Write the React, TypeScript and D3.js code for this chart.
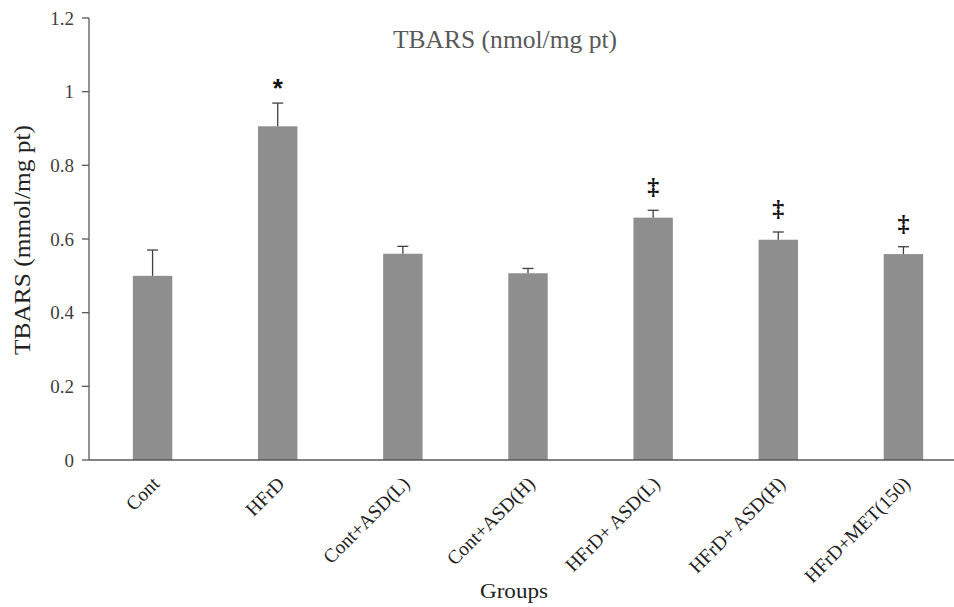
import React, { useEffect, useRef } from "react";
import * as d3 from "d3";

const categories = ["Cont", "HFrD", "Cont+ASD(L)", "Cont+ASD(H)", "HFrD+ ASD(L)", "HFrD+ ASD(H)", "HFrD+MET(150)"];
const values = [0.5, 0.906, 0.56, 0.507, 0.658, 0.598, 0.559];
const errors = [0.07, 0.063, 0.02, 0.013, 0.02, 0.021, 0.02];
const marks = ["", "*", "", "", "‡", "‡", "‡"];
const yTicks = [0, 0.2, 0.4, 0.6, 0.8, 1, 1.2];
const yTickLabels = ["0", "0.2", "0.4", "0.6", "0.8", "1", "1.2"];

const W = 954;
const H = 607;

export default function App() {
  const ref = useRef<SVGSVGElement | null>(null);

  useEffect(() => {
    const svg = d3.select(ref.current);
    svg.selectAll("*").remove();

    const x = d3.scaleBand<string>().domain(categories).range([90, 966]).paddingInner(0.685).paddingOuter(0.3425);
    const y = d3.scaleLinear().domain([0, 1.2]).range([460, 18]);

    const serif = "'Liberation Serif', 'Times New Roman', serif";

    // title
    svg.append("text").attr("x", 505).attr("y", 48).attr("text-anchor", "middle")
      .attr("font-family", serif).attr("font-size", 26).attr("fill", "#595959")
      .attr("textLength", 224).attr("lengthAdjust", "spacingAndGlyphs")
      .text("TBARS (nmol/mg pt)");

    // bars
    svg.append("g").selectAll("rect").data(categories).join("rect")
      .attr("x", (d) => x(d)!)
      .attr("width", x.bandwidth())
      .attr("y", (d, i) => y(values[i]))
      .attr("height", (d, i) => y(0) - y(values[i]))
      .attr("fill", "#8e8e8e");

    // error bars
    const eg = svg.append("g").attr("stroke", "#404040").attr("stroke-width", 1.3);
    categories.forEach((c, i) => {
      const cx = x(c)! + x.bandwidth() / 2;
      const top = y(values[i] + errors[i]);
      eg.append("line").attr("x1", cx).attr("x2", cx).attr("y1", y(values[i])).attr("y2", top);
      eg.append("line").attr("x1", cx - 5.5).attr("x2", cx + 5.5).attr("y1", top).attr("y2", top);
      if (marks[i] === "*") {
        svg.append("text").attr("x", cx).attr("y", top - 6).attr("text-anchor", "middle")
          .attr("font-family", "'Liberation Sans', Arial, sans-serif").attr("font-weight", "bold")
          .attr("font-size", 26).attr("fill", "#111").text(marks[i]);
      } else if (marks[i]) {
        svg.append("text").attr("x", cx).attr("y", top - 16).attr("text-anchor", "middle")
          .attr("font-family", serif).attr("font-weight", "bold")
          .attr("font-size", 24).attr("fill", "#111").text(marks[i]);
      }
    });

    // y axis
    const ya = svg.append("g");
    ya.append("line").attr("x1", 89).attr("x2", 89).attr("y1", y(1.2)).attr("y2", y(0))
      .attr("stroke", "#595959").attr("stroke-width", 1.3);
    yTicks.forEach((t, i) => {
      ya.append("line").attr("x1", 82).attr("x2", 89).attr("y1", y(t)).attr("y2", y(t))
        .attr("stroke", "#595959").attr("stroke-width", 1.3);
      ya.append("text").attr("x", 74).attr("y", y(t)).attr("dy", "0.35em").attr("text-anchor", "end")
        .attr("font-family", serif).attr("font-size", 19).attr("fill", "#404040").text(yTickLabels[i]);
    });

    // x axis
    svg.append("line").attr("x1", 89).attr("x2", W).attr("y1", y(0)).attr("y2", y(0))
      .attr("stroke", "#595959").attr("stroke-width", 1.5);
    categories.forEach((c) => {
      const cx = x(c)! + x.bandwidth() / 2;
      svg.append("text").attr("transform", `translate(${cx + 8},${485}) rotate(-45)`)
        .attr("text-anchor", "end").attr("font-family", serif).attr("font-size", 19.5).attr("fill", "#222")
        .text(c);
    });

    // axis titles
    svg.append("text").attr("transform", `translate(30,240) rotate(-90)`).attr("text-anchor", "middle")
      .attr("font-family", serif).attr("font-size", 24).attr("fill", "#222")
      .attr("textLength", 230).attr("lengthAdjust", "spacingAndGlyphs")
      .text("TBARS (mmol/mg pt)");
    svg.append("text").attr("x", 514).attr("y", 598).attr("text-anchor", "middle")
      .attr("font-family", serif).attr("font-size", 22).attr("fill", "#222")
      .attr("textLength", 68).attr("lengthAdjust", "spacingAndGlyphs")
      .text("Groups");
  }, []);

  return (
    <svg ref={ref} width={W} height={H} style={{ position: "absolute", left: 0, top: 0, background: "#fff" }} />
  );
}
